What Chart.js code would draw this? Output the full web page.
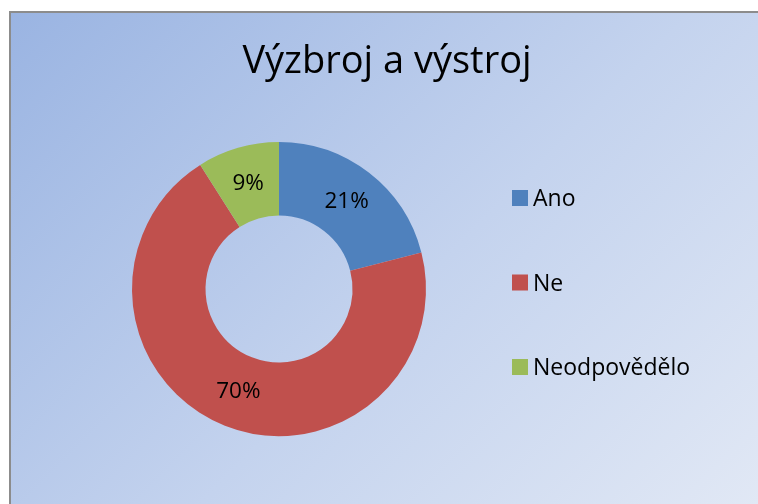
<!DOCTYPE html>
<html><head><meta charset="utf-8">
<script src="https://cdn.jsdelivr.net/npm/chart.js@4/dist/chart.umd.min.js"></script>
<style>
html,body{margin:0;padding:0;background:#fff;width:758px;height:504px;overflow:hidden}
#wrap{position:absolute;left:9px;top:11px;width:749px;height:493px;border-top:2px solid #8c8c8c;border-left:2px solid #8c8c8c;box-sizing:border-box;
background:linear-gradient(135deg,#9ab4e2 0%,#c4d3ee 55%,#e1e8f5 100%)}
canvas{display:block}
</style></head><body>
<div id="wrap"><canvas id="c" width="747" height="491"></canvas></div>
<script>
const titleText = "Výzbroj a výstroj";
const categories = ["Ano", "Ne", "Neodpovědělo"];
const values = [21, 70, 9];
const percentLabels = ["21%", "70%", "9%"];
const colors = ["#4f81bd", "#c0504d", "#9bbb59"];
const FONT = "'Open Sans', sans-serif";

const overlay = {
  id: 'overlay',
  afterDatasetsDraw(chart) {
    const ctx = chart.ctx;
    ctx.save();
    ctx.fillStyle = '#000';
    ctx.font = "38px " + FONT;
    ctx.textAlign = 'center';
    ctx.textBaseline = 'alphabetic';
    ctx.fillText(titleText, 376, 60);
    const meta = chart.getDatasetMeta(0);
    ctx.font = "22.5px " + FONT;
    ctx.textBaseline = 'middle';
    meta.data.forEach((arc, i) => {
      const p = arc.tooltipPosition();
      ctx.fillText(percentLabels[i], p.x, p.y);
    });
    ctx.textAlign = 'left';
    ctx.textBaseline = 'alphabetic';
    ctx.font = "23px " + FONT;
    categories.forEach((name, i) => {
      const y = 193 + i * 84.5;
      ctx.fillStyle = colors[i];
      ctx.fillRect(501, y - 16, 16, 16);
      ctx.fillStyle = '#000';
      ctx.fillText(name, 522, y);
    });
    ctx.restore();
  }
};

new Chart(document.getElementById('c'), {
  type: 'doughnut',
  data: {
    labels: categories,
    datasets: [{ data: values, backgroundColor: colors, borderWidth: 0, hoverOffset: 0 }]
  },
  options: {
    responsive: false,
    animation: false,
    cutout: '50%',
    layout: { padding: { left: 121, right: 332, top: 129, bottom: 68 } },
    plugins: { legend: { display: false }, title: { display: false }, tooltip: { enabled: false } }
  },
  plugins: [overlay]
});
</script>
</body></html>
